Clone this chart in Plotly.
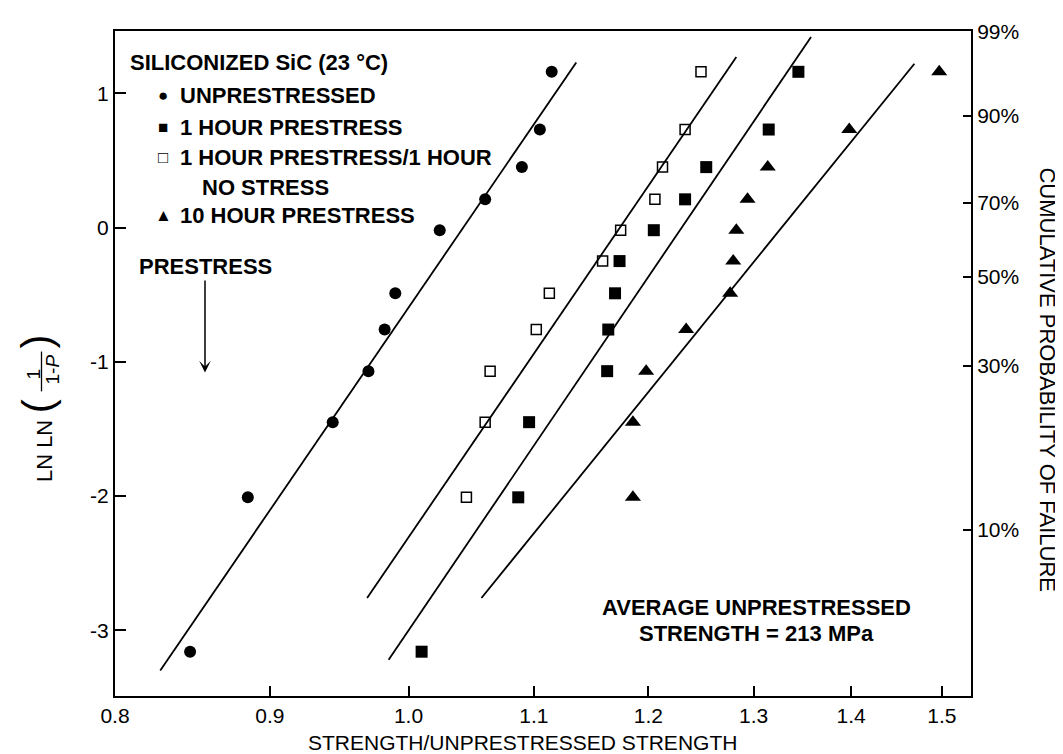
import numpy as np
import plotly.graph_objects as go

# ---------------- data ----------------
# ln ln (1/(1-P)) levels and strength ratios for each series
unp_x = [0.847, 0.885, 0.944, 0.970, 0.982, 0.990, 1.024, 1.060, 1.090, 1.105, 1.115]
unp_y = [-3.16, -2.01, -1.45, -1.07, -0.76, -0.49, -0.02, 0.21, 0.45, 0.73, 1.16]

p1_x = [1.010, 1.087, 1.096, 1.163, 1.164, 1.170, 1.174, 1.205, 1.234, 1.254, 1.315, 1.345]
p1_y = [-3.16, -2.01, -1.45, -1.07, -0.76, -0.49, -0.25, -0.02, 0.21, 0.45, 0.73, 1.16]

p1n_x = [1.045, 1.060, 1.064, 1.102, 1.113, 1.159, 1.175, 1.206, 1.213, 1.234, 1.249]
p1n_y = [-2.01, -1.45, -1.07, -0.76, -0.49, -0.25, -0.02, 0.21, 0.45, 0.73, 1.16]

p10_x = [1.186, 1.186, 1.198, 1.235, 1.277, 1.280, 1.283, 1.294, 1.314, 1.398, 1.497]
p10_y = [-2.01, -1.45, -1.07, -0.76, -0.49, -0.25, -0.02, 0.21, 0.45, 0.73, 1.16]

# fitted lines (end points)
fit_unp_x = [0.828, 1.136]
fit_unp_y = [-3.30, 1.23]
fit_p1n_x = [0.969, 1.283]
fit_p1n_y = [-2.76, 1.27]
fit_p1_x = [0.985, 1.358]
fit_p1_y = [-3.22, 1.42]
fit_p10_x = [1.057, 1.469]
fit_p10_y = [-2.76, 1.22]

# axes ticks
x_ticks = [0.8, 0.9, 1.0, 1.1, 1.2, 1.3, 1.4, 1.5]
x_ticktext = ["0.8", "0.9", "1.0", "1.1", "1.2", "1.3", "1.4", "1.5"]
y_ticks = [1, 0, -1, -2, -3]
y_ticktext = ["1", "0", "-1", "-2", "-3"]
prob_ticks = [1.46, 0.834, 0.186, -0.367, -1.031, -2.250]
prob_ticktext = ["99%", "90%", "70%", "50%", "30%", "10%"]

# ---------------- layout geometry ----------------
W, H = 1063, 754
L, R, T, B = 107, 963, 20, 688   # plot area in pixels
FONT = "Liberation Sans, Arial, Helvetica, sans-serif"


def px(x):
    return (x - L) / (R - L)


def py(y):
    return (B - y) / (B - T)


fig = go.Figure()

line_style = dict(color="black", width=1.8)
for fx, fy in [(fit_unp_x, fit_unp_y), (fit_p1n_x, fit_p1n_y),
               (fit_p1_x, fit_p1_y), (fit_p10_x, fit_p10_y)]:
    fig.add_trace(go.Scatter(x=fx, y=fy, mode="lines", line=line_style,
                             showlegend=False, hoverinfo="skip"))

fig.add_trace(go.Scatter(x=unp_x, y=unp_y, mode="markers", name="UNPRESTRESSED",
                         marker=dict(symbol="circle", size=12, color="black")))
fig.add_trace(go.Scatter(x=p1_x, y=p1_y, mode="markers", name="1 HOUR PRESTRESS",
                         marker=dict(symbol="square", size=12, color="black")))
fig.add_trace(go.Scatter(x=p1n_x, y=p1n_y, mode="markers",
                         name="1 HOUR PRESTRESS/1 HOUR NO STRESS",
                         marker=dict(symbol="square-open", size=10, color="black",
                                     line=dict(color="black", width=1.5))))
fig.add_trace(go.Scatter(x=p10_x, y=p10_y, mode="markers", name="10 HOUR PRESTRESS",
                         marker=dict(symbol="triangle-up", size=14, color="black")))
# invisible trace to carry the right-hand probability axis
fig.add_trace(go.Scatter(x=[None], y=[None], yaxis="y2", showlegend=False,
                         hoverinfo="skip"))

tickfont = dict(family=FONT, size=21, color="black")
fig.update_layout(
    width=W, height=H, autosize=False,
    margin=dict(l=L, r=W - R, t=T, b=H - B, pad=0),
    paper_bgcolor="white", plot_bgcolor="white",
    showlegend=False,
    font=dict(family=FONT, color="black"),
    xaxis=dict(type="log", range=[np.log10(0.8), np.log10(1.5336)],
               tickvals=x_ticks, ticktext=x_ticktext, tickfont=tickfont,
               ticks="inside", ticklen=10, tickwidth=1.6, tickcolor="black",
               showline=True, linecolor="black", linewidth=2, mirror=True,
               showgrid=False, zeroline=False),
    yaxis=dict(range=[-3.49, 1.464], tickvals=y_ticks, ticktext=y_ticktext,
               tickfont=tickfont, ticks="inside", ticklen=11, tickwidth=1.6,
               tickcolor="black", showline=True, linecolor="black", linewidth=2,
               showgrid=False, zeroline=False),
    yaxis2=dict(range=[-3.49, 1.464], overlaying="y", side="right",
                tickvals=prob_ticks, ticktext=prob_ticktext, tickfont=tickfont,
                ticks="inside", ticklen=8, tickwidth=1.6, tickcolor="black",
                showline=True, linecolor="black", linewidth=2,
                showgrid=False, zeroline=False),
)

ann = []


def text(x, y, s, size=22, bold=True, anchor="left", angle=0, family=FONT):
    ann.append(dict(x=px(x), y=py(y), xref="paper", yref="paper", text=s,
                    showarrow=False, xanchor=anchor, yanchor="middle",
                    textangle=angle, borderpad=0,
                    font=dict(family=family, size=size, color="black",
                              weight="bold" if bold else "normal")))


# legend block
text(121, 52, "SILICONIZED SiC (23 °C)")
glyph_x = 155
text(glyph_x, 85, "●", size=17, anchor="center")
text(171, 85, "UNPRESTRESSED")
text(glyph_x, 117, "■", size=17, anchor="center")
text(171, 117, "1 HOUR PRESTRESS")
text(glyph_x, 147, "□", size=17, anchor="center")
text(171, 147, "1 HOUR PRESTRESS/1 HOUR")
text(193, 177, "NO STRESS")
text(glyph_x, 205, "▲", size=17, anchor="center")
text(171, 205, "10 HOUR PRESTRESS")

# bottom-right note
text(748, 599, "AVERAGE UNPRESTRESSED", anchor="center")
text(748, 625, "STRENGTH = 213 MPa", anchor="center")

# axis titles
text(514, 735, "STRENGTH/UNPRESTRESSED STRENGTH", size=21, bold=False, anchor="center")
text(1040, 370, "CUMULATIVE PROBABILITY OF FAILURE", size=22, bold=False,
     anchor="center", angle=90)
text(36, 442, "LN LN", size=22, bold=False, anchor="center", angle=-90)
text(29, 397, "(", size=42, bold=False, anchor="center", angle=-90)
text(29, 332, ")", size=42, bold=False, anchor="center", angle=-90)
text(25, 365, "1", size=19, bold=False, anchor="center", angle=-90)
text(44, 360, "1-<i>P</i>", size=19, bold=False, anchor="center", angle=-90)

# prestress arrow
ann.append(dict(x=px(197), y=py(363), xref="paper", yref="paper",
                text="<b>PRESTRESS</b>", showarrow=True, ax=0, ay=-106,
                arrowhead=3, arrowsize=1.3, arrowwidth=1.5, arrowcolor="black",
                standoff=0, startstandoff=0,
                font=dict(family=FONT, size=22, color="black")))

fig.update_layout(annotations=ann)
fig.add_shape(type="line", xref="paper", yref="paper",
              x0=px(33.5), x1=px(33.5), y0=py(342), y1=py(382),
              line=dict(color="black", width=1.3))

fig.write_html("out.html")
